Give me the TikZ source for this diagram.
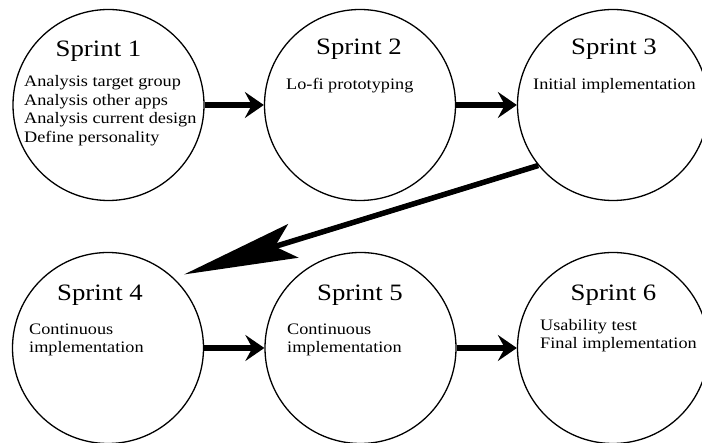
\documentclass[tikz,border=0pt]{standalone}
\usepackage{fontspec}
\setmainfont[FakeStretch=1.14]{Liberation Serif}
\usetikzlibrary{arrows.meta}
\begin{document}
\begin{tikzpicture}[x=1pt,y=-1pt,
  sprint/.style={circle,draw,line width=1.3pt,minimum size=191pt,inner sep=0pt},
  ttl/.style={anchor=base,font=\fontsize{23.5}{28}\selectfont,inner sep=0pt},
  body/.style={anchor=base west,font=\fontsize{16}{18.7}\selectfont,inner sep=0pt,align=left},
  flow/.style={line width=5.5pt,-{Stealth[length=19pt,width=26pt,inset=7pt]}},
  back/.style={line width=5.5pt,-{Stealth[length=114pt,width=35pt,inset=19pt]},shorten >=11pt}]
\useasboundingbox (0,0) rectangle (702,443);
\clip (0,0) rectangle (702,443);
% circles
\node[sprint] (s1) at (108.5,105) {};
\node[sprint] (s2) at (360,105) {};
\node[sprint] (s3) at (613,105) {};
\node[sprint] (s4) at (108,348) {};
\node[sprint] (s5) at (360.5,348) {};
\node[sprint] (s6) at (613,348) {};
% titles
\node[ttl] (t1) at (98.5,57) {Sprint 1};
\node[ttl] (t2) at (359,55) {Sprint 2};
\node[ttl] (t3) at (614,55) {Sprint 3};
\node[ttl] (t4) at (100,301) {Sprint 4};
\node[ttl] (t5) at (360,301) {Sprint 5};
\node[ttl] (t6) at (613.5,301) {Sprint 6};
% bodies (base anchor = baseline of the last line)
\node[body] (b1) at (24,142.7) {Analysis target group\\Analysis other apps\\Analysis current design\\Define personality};
\node[body] (b2) at (286,89.5) {Lo-fi prototyping};
\node[body] (b3) at (533,89.5) {Initial implementation};
\node[body] (b4) at (29,353) {Continuous\\implementation};
\node[body] (b5) at (287,353) {Continuous\\implementation};
\node[body] (b6) at (540,349) {Usability test\\Final implementation};
% arrows
\draw[flow] (s1) -- (s2);
\draw[flow] (s2) -- (s3);
\draw[flow] (s4) -- (s5);
\draw[flow] (s5) -- (s6);
\draw[back] (s3.219.6) -- (s4.47.3);
\end{tikzpicture}
\end{document}
